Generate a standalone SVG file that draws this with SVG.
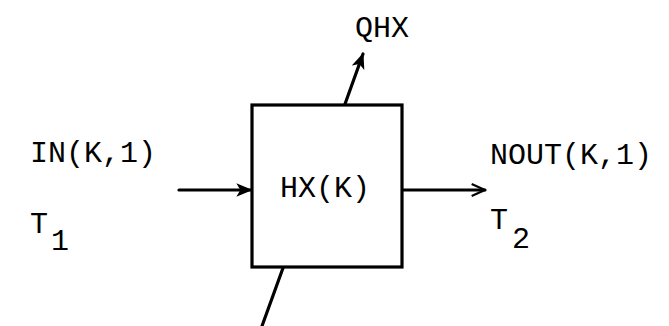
<svg xmlns="http://www.w3.org/2000/svg" width="669" height="326" viewBox="0 0 669 326">
<style>
text{font-family:"Liberation Mono","DejaVu Sans Mono",monospace;font-size:30px;fill:#000}
.ln{stroke:#000;stroke-width:3.2;fill:none;stroke-linecap:round}
</style>
<defs>
<marker id="fa" viewBox="0 0 12 10" refX="11" refY="5" markerWidth="5" markerHeight="4.2" markerUnits="strokeWidth" orient="auto">
<path d="M0,0 L12,5 L0,10 L3,5 Z" fill="#000"/>
</marker>
<marker id="ba" viewBox="0 0 12 10" refX="11" refY="5" markerWidth="5" markerHeight="4.2" markerUnits="strokeWidth" orient="auto">
<path d="M1,0.5 L11,5 L1,9.5" fill="none" stroke="#000" stroke-width="1.6"/>
</marker>
</defs>
<g id="hx">
<rect x="252" y="105" width="150" height="162" fill="none" stroke="#000" stroke-width="3.2"/>
<text x="280" y="197">HX(K)</text>
</g>
<g id="in">
<text x="30" y="162">IN(K,1)</text>
<text x="30" y="233">T</text>
<text x="51" y="250">1</text>
</g>
<g id="nout">
<text x="490" y="164">NOUT(K,1)</text>
<text x="490" y="229">T</text>
<text x="512" y="248">2</text>
</g>
<g id="qhx">
<text x="355" y="37">QHX</text>
</g>
<g id="connectors">
<line class="ln" x1="179" y1="190" x2="251" y2="190" marker-end="url(#fa)"/>
<line class="ln" x1="403" y1="190" x2="485" y2="190" marker-end="url(#ba)"/>
<line class="ln" x1="345" y1="104" x2="363" y2="54" marker-end="url(#fa)"/>
<line class="ln" x1="283" y1="268" x2="262" y2="326"/>
</g>
</svg>
